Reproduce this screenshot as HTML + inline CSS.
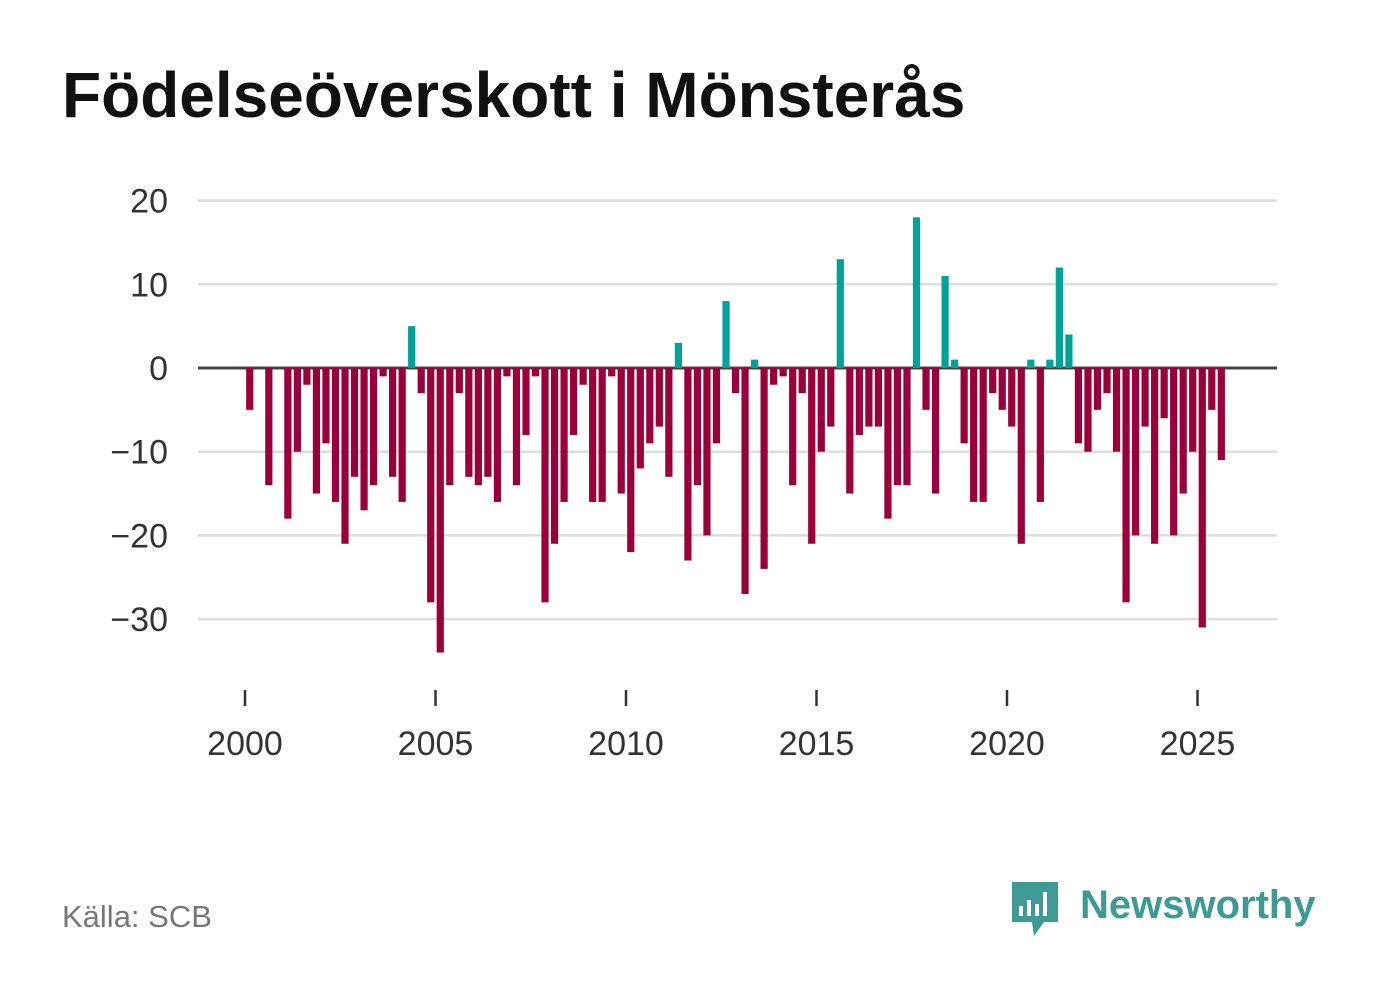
<!DOCTYPE html>
<html><head><meta charset="utf-8"><style>
body{margin:0;background:#fff;width:1382px;height:999px;overflow:hidden;font-family:"Liberation Sans",sans-serif;}
#title{position:absolute;left:62px;top:58px;font-size:64px;font-weight:bold;color:#111;}
#src{position:absolute;left:62px;top:899px;font-size:31px;color:#777;}
#logo{position:absolute;left:1010px;top:878px;}
</style></head><body>
<div id="title">Födelseöverskott i Mönsterås</div>
<svg id="chart" width="1382" height="999" style="position:absolute;left:0;top:0"></svg>
<div id="src">Källa: SCB</div>
<div id="logo">
<svg width="310" height="65">
<path d="M2 4 h46 v40 h-14 l-10 14 l-2 -14 h-20 z" fill="#3d9a94"/>
<rect x="9" y="28" width="4" height="10" fill="#fff"/><rect x="17" y="22" width="4" height="16" fill="#fff"/><rect x="25" y="26" width="4" height="12" fill="#fff"/><rect x="33" y="14" width="4" height="24" fill="#fff"/>
<text x="70" y="40" font-size="40" font-weight="bold" fill="#3d9a94" font-family="Liberation Sans, sans-serif">Newsworthy</text>
</svg></div>
<script>
const values=[-5,0,-14,0,-18,-10,-2,-15,-9,-16,-21,-13,-17,-14,-1,-13,-16,5,-3,-28,-34,-14,-3,-13,-14,-13,-16,-1,-14,-8,-1,-28,-21,-16,-8,-2,-16,-16,-1,-15,-22,-12,-9,-7,-13,3,-23,-14,-20,-9,8,-3,-27,1,-24,-2,-1,-14,-3,-21,-10,-7,13,-15,-8,-7,-7,-18,-14,-14,18,-5,-15,11,1,-9,-16,-16,-3,-5,-7,-21,1,-16,1,12,4,-9,-10,-5,-3,-10,-28,-20,-7,-21,-6,-20,-15,-10,-31,-5,-11];
const yTicks=[20,10,0,-10,-20,-30];
const xTicks=[2000,2005,2010,2015,2020,2025];
const svg=document.getElementById('chart');const NS='http://www.w3.org/2000/svg';
const y=v=>368-v*8.37;
const x=t=>245+(t-2000)*38.1;
function mk(tag,a){const e=document.createElementNS(NS,tag);for(const k in a)e.setAttribute(k,a[k]);svg.appendChild(e);return e;}
yTicks.forEach(t=>{
 const l=mk('line',{x1:198,x2:1277,y1:y(t),y2:y(t),stroke:t===0?'#444':'#ddd','stroke-width':t===0?3:2.5});
 
 
 const tx=mk('text',{x:168,y:y(t)+12,'text-anchor':'end','font-size':34,fill:'#333'});
 tx.textContent=t<0?'\u2212'+(-t):String(t);
 
 
});
values.forEach((v,i)=>{
 const cx=x(2000+(i+0.5)/4);
 const r=mk('rect',{x:cx-3.6,y:Math.min(y(v),y(0)),width:7.2,height:Math.abs(y(v)-y(0)),fill:v>=0?'#00a29a':'#9b003a'});
 
 
});
xTicks.forEach(t=>{
 const l=mk('line',{x1:x(t),x2:x(t),y1:690,y2:706,stroke:'#333','stroke-width':2.5});
 
 
 const tx=mk('text',{x:x(t),y:755,'text-anchor':'middle','font-size':34,fill:'#333'});
 tx.textContent=t;
 
 
});
</script>
</body></html>
